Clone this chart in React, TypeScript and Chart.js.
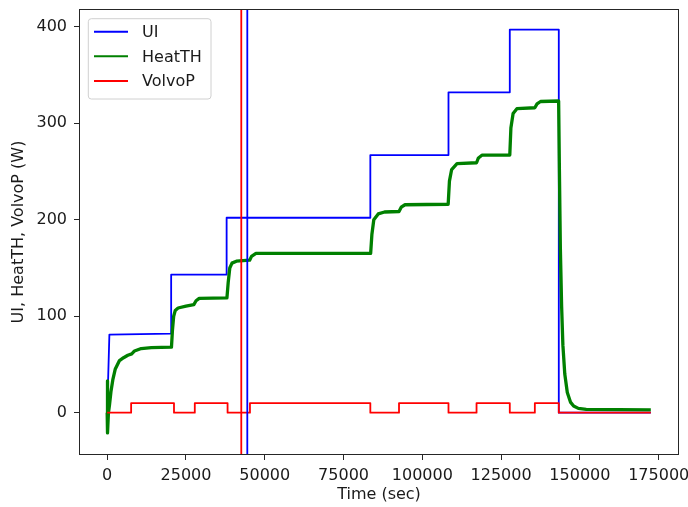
import React, { useEffect, useRef } from 'react';
import { Chart, registerables } from 'chart.js';

Chart.register(...registerables);

const seriesLabels = ['UI', 'HeatTH', 'VolvoP'];
const seriesColors = ['#0000ff', '#008000', '#ff0000'];

const uiTime = [0, 700, 20300, 20300, 37900, 37900, 83500, 83500, 108300, 108300, 127750, 127750, 143300, 143300, 172500];
const uiValue = [0, 81, 82, 143, 143, 202, 202, 267, 267, 332, 332, 397, 397, 0, 0];

const heatTime = [
  0, 60, 150, 400, 730, 1200, 1780, 2540, 3900, 5200, 6550, 7800, 8670, 10800, 14000,
  20400, 20700, 21100, 21600, 22500, 25000, 27500, 28200, 29200, 38000,
  38400, 38900, 39600, 41000, 45200, 45800, 47200, 83600,
  84000, 84600, 86000, 88000, 92600, 93300, 94500, 108200,
  108600, 109300, 111000, 117200, 117800, 119000, 127750,
  128100, 128800, 130000, 135700, 136400, 137500, 143250,
  143500, 143800, 144200, 144600, 145200, 146000, 147000, 148000, 149500, 152000, 172500,
];
const heatValue = [
  0, 33, -21, 0, 8, 22, 34, 45, 54, 57, 59.5, 61, 64, 66.5, 67.5,
  68, 85, 100, 106, 108.5, 110.5, 112, 116, 118.5, 119,
  135, 150, 155, 157, 158, 162, 165, 165,
  185, 200, 206, 208, 208.5, 213, 215.5, 216,
  240, 252, 258, 259, 264, 267, 267,
  295, 310, 315, 316, 320, 322.5, 323,
  250, 170, 110, 70, 40, 21, 11, 7, 4.5, 3.5, 3,
];

const volvoTime = [0, 7600, 7600, 21200, 21200, 27800, 27800, 38200, 38200, 45300, 45300, 83500, 83500, 92600, 92600, 108300, 108300, 117200, 117200, 127750, 127750, 135700, 135700, 143300, 143300, 172500];
const volvoValue = [0, 0, 10, 10, 0, 0, 10, 10, 0, 0, 10, 10, 0, 0, 10, 10, 0, 0, 10, 10, 0, 0, 10, 10, 0, 0];

const markerTimes = [42550, 44460];
const markerColors = ['#ff0000', '#0000ff'];

const xTicks = [0, 25000, 50000, 75000, 100000, 125000, 150000, 175000];
const yTicks = [0, 100, 200, 300, 400];
const xRange = [-8625, 181125];
const yRange = [-42.8, 417.3];

const xTitle = 'Time (sec)';
const yTitle = 'UI, HeatTH, VolvoP (W)';

const FONT = "'DejaVu Sans', sans-serif";
const TEXT = '#1a1a1a';
const AXIS = '#262626';

const toPoints = (xs: number[], ys: number[]) => xs.map((x, i) => ({ x, y: ys[i] }));

const frameLegendPlugin = {
  id: 'frameLegend',
  afterDraw(chart: any) {
    const { ctx, chartArea: a } = chart;
    ctx.save();
    ctx.strokeStyle = AXIS;
    ctx.lineWidth = 1;
    ctx.strokeRect(Math.round(a.left) - 0.5, Math.round(a.top) - 0.5, Math.round(a.right - a.left) + 1, Math.round(a.bottom - a.top) + 1);

    const bx = a.left + 8.3;
    const by = a.top + 8.7;
    const bw = 122.7;
    const bh = 80.3;
    const r = 3;
    ctx.beginPath();
    ctx.moveTo(bx + r, by);
    ctx.lineTo(bx + bw - r, by);
    ctx.quadraticCurveTo(bx + bw, by, bx + bw, by + r);
    ctx.lineTo(bx + bw, by + bh - r);
    ctx.quadraticCurveTo(bx + bw, by + bh, bx + bw - r, by + bh);
    ctx.lineTo(bx + r, by + bh);
    ctx.quadraticCurveTo(bx, by + bh, bx, by + bh - r);
    ctx.lineTo(bx, by + r);
    ctx.quadraticCurveTo(bx, by, bx + r, by);
    ctx.closePath();
    ctx.fillStyle = 'rgba(255,255,255,0.8)';
    ctx.fill();
    ctx.strokeStyle = '#d0d0d0';
    ctx.lineWidth = 1;
    ctx.stroke();

    ctx.font = `16px ${FONT}`;
    ctx.textBaseline = 'middle';
    ctx.textAlign = 'left';
    seriesLabels.forEach((label, i) => {
      const y = by + 13 + i * 24.65;
      ctx.strokeStyle = seriesColors[i];
      ctx.lineWidth = 2;
      ctx.beginPath();
      ctx.moveTo(bx + 5.7, y);
      ctx.lineTo(bx + 39.7, y);
      ctx.stroke();
      ctx.fillStyle = TEXT;
      ctx.fillText(label, bx + 53.7, y + 1);
    });
    ctx.restore();
  },
};

const zeroPad = (s: any) => {
  s.paddingLeft = 0;
  s.paddingRight = 0;
  s.paddingTop = 0;
  s.paddingBottom = 0;
};

export default function App() {
  const ref = useRef<HTMLCanvasElement | null>(null);

  useEffect(() => {
    document.body.style.margin = '0';
    const canvas = ref.current;
    if (!canvas) return;

    const seriesX = [uiTime, heatTime, volvoTime];
    const seriesY = [uiValue, heatValue, volvoValue];
    const widths = [1.8, 3.3, 1.8];

    const datasets: any[] = seriesLabels.map((label, i) => ({
      label,
      data: toPoints(seriesX[i], seriesY[i]),
      borderColor: seriesColors[i],
      backgroundColor: seriesColors[i],
      borderWidth: widths[i],
      pointRadius: 0,
      tension: 0,
      fill: false,
      borderJoinStyle: 'round',
      order: 10 - i,
    }));
    markerTimes.forEach((t, i) => {
      datasets.push({
        label: '',
        data: [{ x: t, y: yRange[0] }, { x: t, y: yRange[1] }],
        borderColor: markerColors[i],
        backgroundColor: markerColors[i],
        borderWidth: 1.8,
        pointRadius: 0,
        fill: false,
        order: 2 - i,
      });
    });

    const tickFont = { family: FONT, size: 16 };

    const chart = new Chart(canvas, {
      type: 'line',
      data: { datasets },
      options: {
        responsive: false,
        animation: false,
        devicePixelRatio: 1,
        layout: { padding: { top: 10, right: 10, left: 0, bottom: 0 } },
        plugins: { legend: { display: false }, tooltip: { enabled: false } },
        scales: {
          x: {
            type: 'linear',
            min: xRange[0],
            max: xRange[1],
            afterBuildTicks: (s: any) => { s.ticks = xTicks.map((v) => ({ value: v })); },
            afterFit: (s: any) => { s.height = 53; zeroPad(s); },
            ticks: { font: tickFont, color: TEXT, padding: 6, maxRotation: 0, autoSkip: false, callback: (v: any) => String(v) },
            grid: { drawOnChartArea: false, drawTicks: true, tickLength: 6, color: AXIS, tickColor: AXIS },
            border: { display: false },
            title: { display: true, text: xTitle, font: tickFont, color: TEXT, padding: { top: 0, bottom: 3 } },
          },
          y: {
            type: 'linear',
            min: yRange[0],
            max: yRange[1],
            afterBuildTicks: (s: any) => { s.ticks = yTicks.map((v) => ({ value: v })); },
            afterFit: (s: any) => { s.width = 80; zeroPad(s); },
            ticks: { font: tickFont, color: TEXT, padding: 7, callback: (v: any) => String(v) },
            grid: { drawOnChartArea: false, drawTicks: true, tickLength: 6, color: AXIS, tickColor: AXIS },
            border: { display: false },
            title: { display: true, text: yTitle, font: tickFont, color: TEXT, padding: { top: 9, bottom: 0 } },
          },
        },
      },
      plugins: [frameLegendPlugin],
    });

    return () => chart.destroy();
  }, []);

  return (
    <div style={{ width: 688, height: 507 }}>
      <canvas ref={ref} width={688} height={507} style={{ display: 'block' }} />
    </div>
  );
}
